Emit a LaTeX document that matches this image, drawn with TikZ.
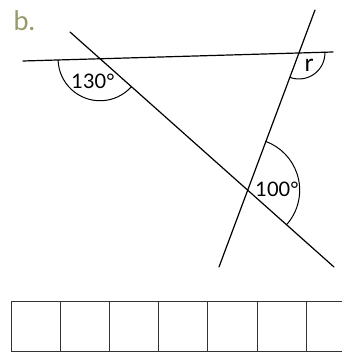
\documentclass[tikz,border=0pt]{standalone}
\usepackage{fontspec}
\setmainfont{Lato}
\usetikzlibrary{intersections}
\definecolor{partolive}{RGB}{150,154,108}

\begin{document}
\begin{tikzpicture}[x=1pt, y=1pt, line cap=round, line join=round]

    % ── Frame (size of the page) ─────────────────────────────────────────────
    \useasboundingbox (0,0) rectangle (342,353);

    % ── Part label ───────────────────────────────────────────────────────────
    \node[font=\fontsize{27}{30}\selectfont, partolive, anchor=base west]
        at (10,322) {b.};

    % ── The three lines ──────────────────────────────────────────────────────
    % almost horizontal line
    \draw[name path=flat, line width=1.2pt] (23,292) -- (333,301);

    % line falling to the right
    \draw[name path=fall, line width=1.2pt] (70,321) -- (334,86);

    % steep line
    \draw[name path=steep, line width=1.2pt] (315,343) -- (219,86);

    % ── Crossing points ──────────────────────────────────────────────────────
    \path[name intersections={of=flat and fall, by=A}];
    \path[name intersections={of=flat and steep, by=B}];
    \path[name intersections={of=fall and steep, by=C}];

    % ── Angle arcs ───────────────────────────────────────────────────────────
    \draw[line width=1pt] (A) ++(181.66:42)
        arc[start angle=181.66, end angle=318.33, radius=42];
    \draw[line width=1pt] (B) ++(249.52:26)
        arc[start angle=249.52, end angle=361.66, radius=26];
    \draw[line width=1pt] (C) ++(-41.67:52)
        arc[start angle=-41.67, end angle=69.52, radius=52];

    % ── Angle labels ─────────────────────────────────────────────────────────
    \node[font=\fontsize{20}{22}\selectfont] (a130) at (93,272) {130°};
    \node[font=\fontsize{24}{26}\selectfont] (angr) at (309,288) {r};
    \node[font=\fontsize{20}{22}\selectfont] (a100) at (277,164) {100°};

    % ── Answer boxes ─────────────────────────────────────────────────────────
    \draw[line width=1pt, black!80] (11.7,51.3) -- (342,51.3);
    \draw[line width=1pt, black!80] (11.7,1.3) -- (342,1.3);
    \draw[line width=1pt, black!80] (11.7,1.3) -- (11.7,51.3);
    \draw[line width=1pt, black!80] (60.8,1.3) -- (60.8,51.3);
    \draw[line width=1pt, black!80] (109.8,1.3) -- (109.8,51.3);
    \draw[line width=1pt, black!80] (158.9,1.3) -- (158.9,51.3);
    \draw[line width=1pt, black!80] (207.9,1.3) -- (207.9,51.3);
    \draw[line width=1pt, black!80] (257,1.3) -- (257,51.3);
    \draw[line width=1pt, black!80] (306,1.3) -- (306,51.3);

\end{tikzpicture}
\end{document}
